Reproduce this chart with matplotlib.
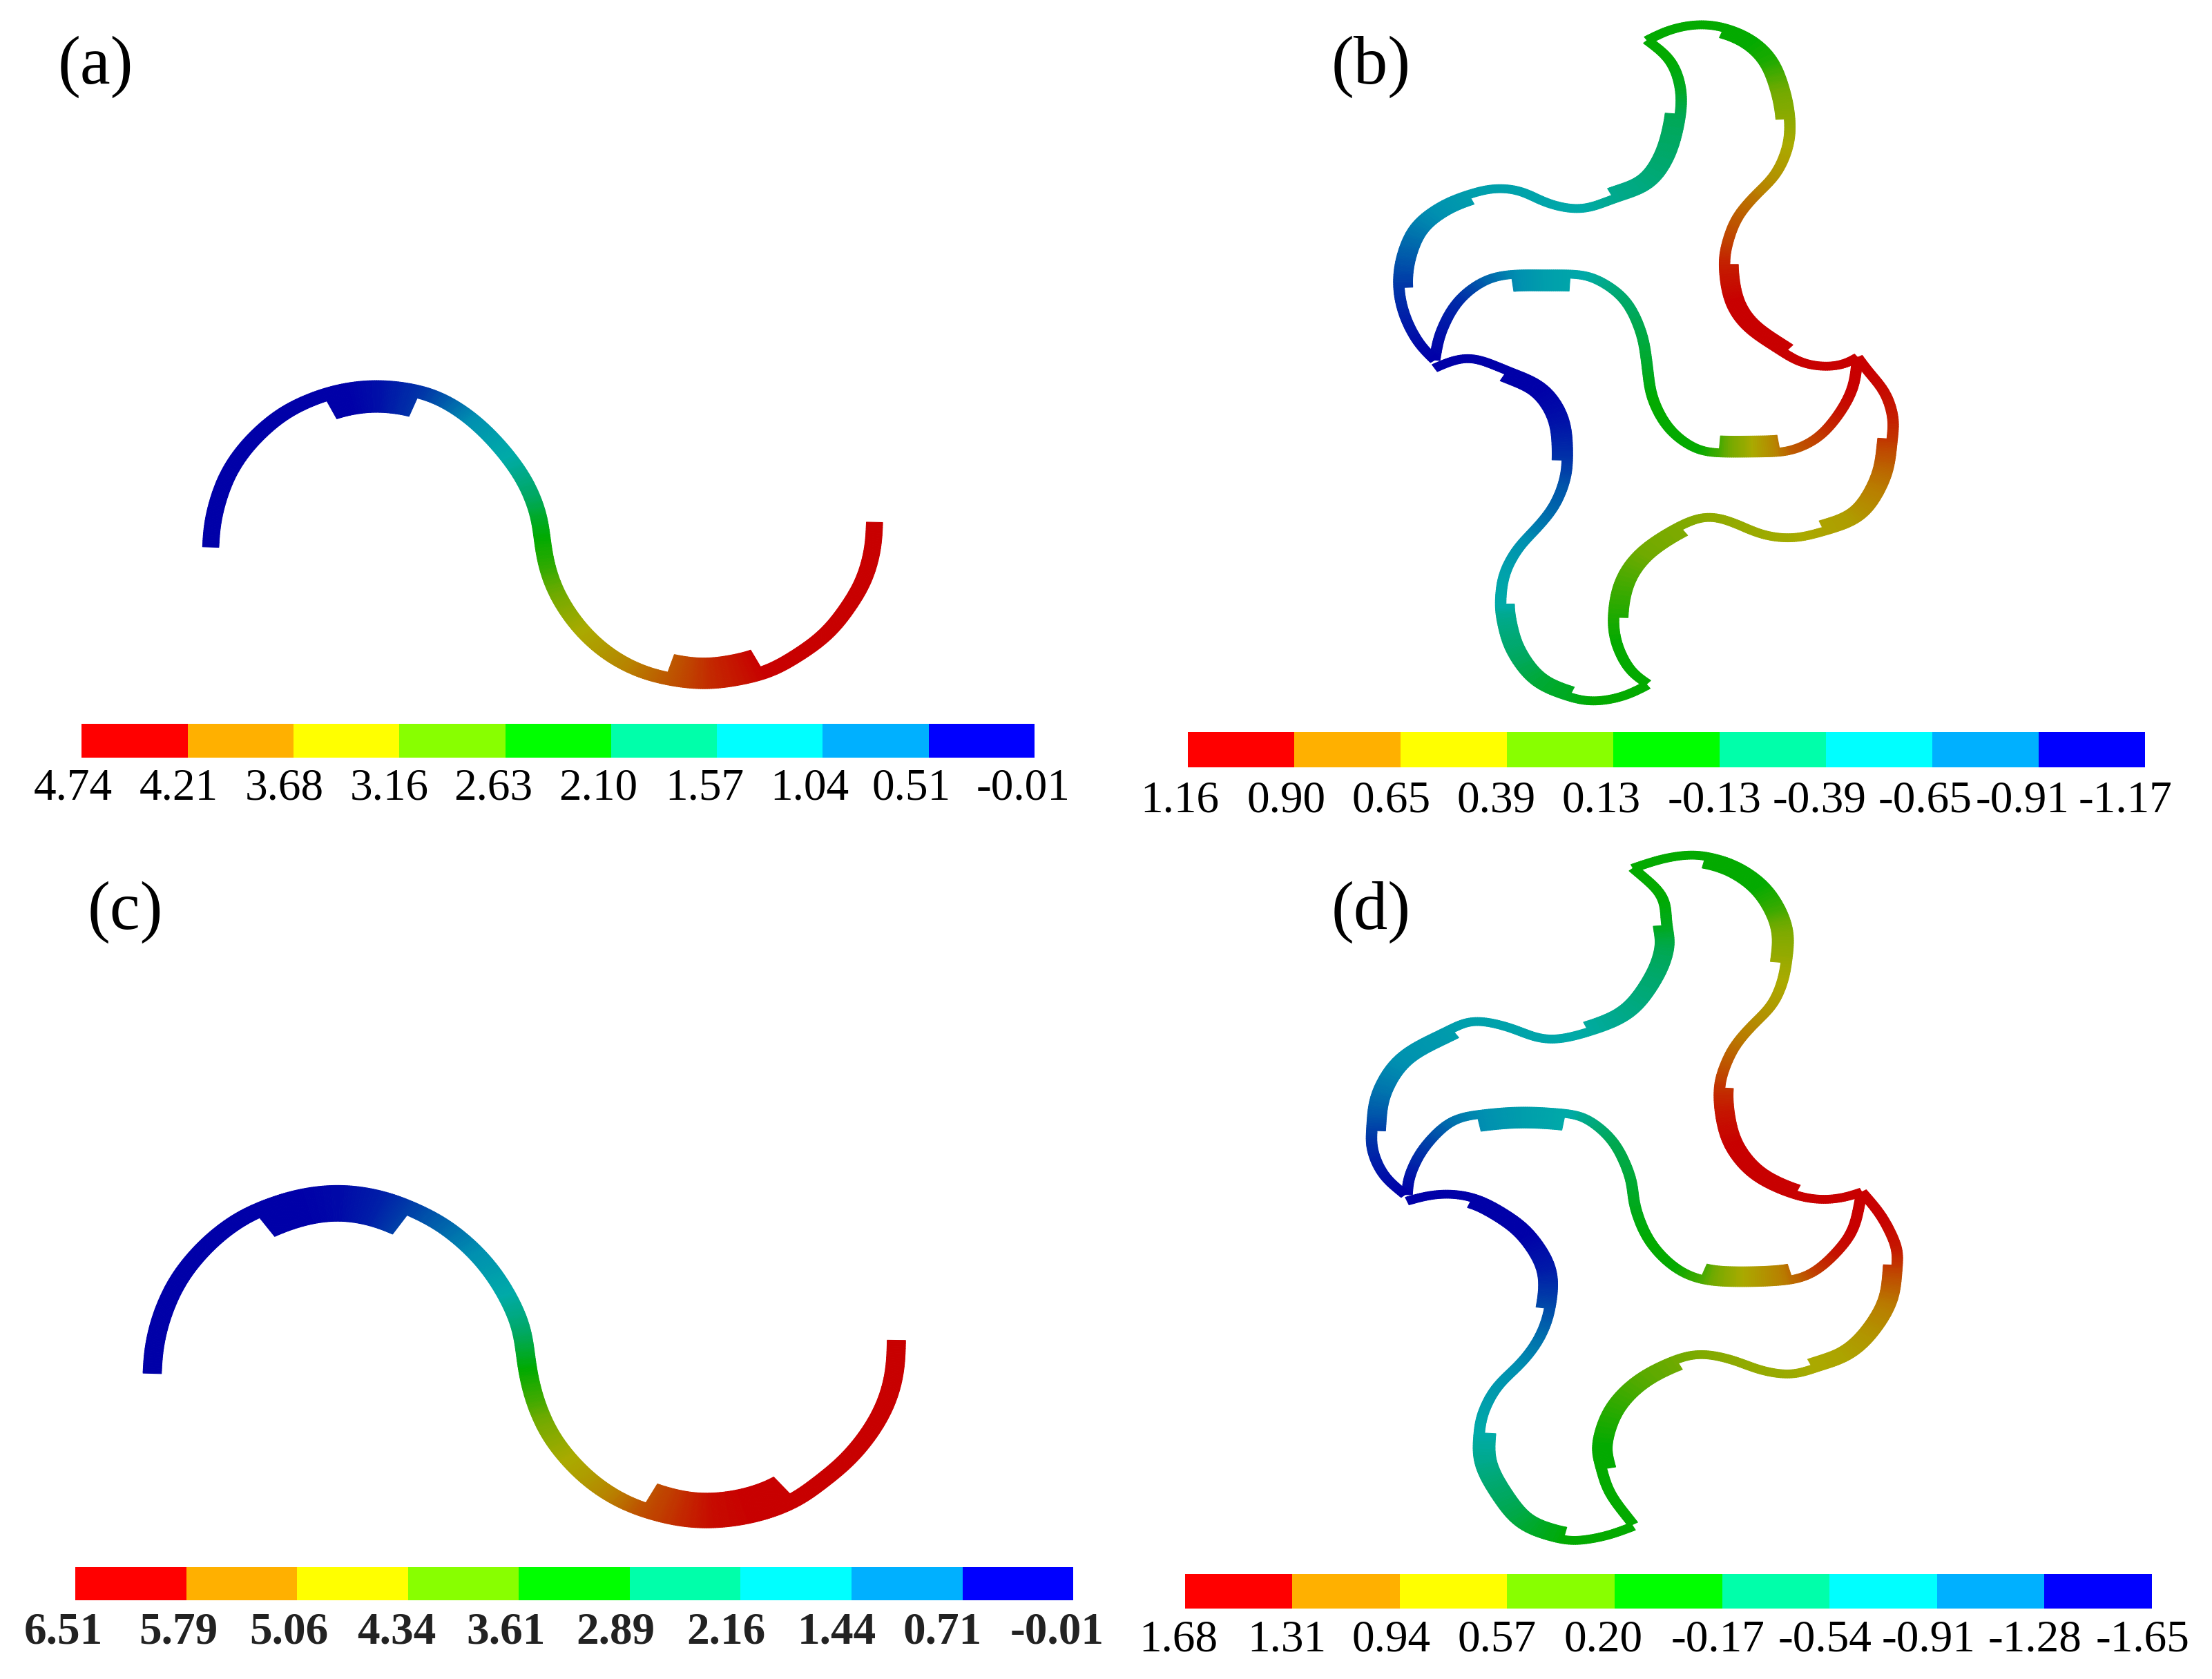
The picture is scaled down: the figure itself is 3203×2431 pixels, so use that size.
import numpy as np
import matplotlib
matplotlib.use("Agg")
import matplotlib.pyplot as plt
from matplotlib.collections import PolyCollection
from matplotlib.colors import LinearSegmentedColormap

# Colour bar
BAR_COLORS = ["#FF0000", "#FFB000", "#FFFF00", "#88FF00", "#00FF00", "#00FFAA", "#00FFFF", "#00B0FF", "#0000FF"]
A_TICKS = ["4.74", "4.21", "3.68", "3.16", "2.63", "2.10", "1.57", "1.04", "0.51", "-0.01"]
B_TICKS = ["1.16", "0.90", "0.65", "0.39", "0.13", "-0.13", "-0.39", "-0.65", "-0.91", "-1.17"]
C_TICKS = ["6.51", "5.79", "5.06", "4.34", "3.61", "2.89", "2.16", "1.44", "0.71", "-0.01"]
D_TICKS = ["1.68", "1.31", "0.94", "0.57", "0.20", "-0.17", "-0.54", "-0.91", "-1.28", "-1.65"]
A_TICK_X = [104, 254, 404, 552, 700, 849, 1000, 1149, 1293, 1452]
B_TICK_X = [106, 257, 406, 554, 703, 863, 1012, 1162, 1300, 1445]
C_TICK_X = [90, 253, 410, 563, 718, 873, 1030, 1188, 1337, 1500]
D_TICK_X = [104, 258, 406, 555, 706, 868, 1020, 1167, 1317, 1470]

# Panel a: centreline x, y, normalised value, extra thickness per segment
A_X = [299, 300, 307, 322, 345, 375, 410, 458, 490, 537, 596, 630, 670, 710, 745, 765, 769, 775, 790, 820, 860, 905, 942, 1005, 1083, 1104, 1130, 1160, 1184, 1205, 1222, 1233, 1240, 1241]
A_Y = [1018, 985, 940, 885, 838, 797, 762, 735, 724, 718, 728, 745, 780, 832, 895, 960, 1000, 1050, 1105, 1165, 1215, 1248, 1262, 1272, 1254, 1242, 1221, 1195, 1165, 1127, 1092, 1054, 1011, 972]
A_V = [0, 0, 0, 0, 0, 0, 0, 0, 0, .03, .1, .16, .25, .33, .4, .47, .5, .53, .58, .65, .72, .8, .85, .93, 1, 1, 1, 1, 1, 1, 1, 1, 1, 1]
A_E = [0, 0, 0, 0, 0, 0, 0, -36, -36, -36, 0, 0, 0, 0, 0, 0, 0, 0, 0, 0, 0, 0, 34, 34, 0, 0, 0, 0, 0, 0, 0, 0, 0, 0]

# Panel c
C_X = [216, 218, 230, 255, 295, 335, 360, 420, 482, 540, 583, 630, 680, 715, 740, 748, 760, 785, 830, 875, 910, 960, 1008, 1070, 1128, 1163, 1189, 1212, 1233, 1251, 1264, 1271, 1272]
C_Y = [995, 950, 885, 815, 752, 710, 692, 664, 654, 665, 686, 718, 775, 838, 910, 985, 1050, 1120, 1188, 1230, 1250, 1268, 1273, 1262, 1234, 1200, 1174, 1144, 1109, 1070, 1027, 980, 933]
C_V = [0, 0, 0, 0, 0, 0, 0, 0, .02, .06, .12, .18, .26, .34, .42, .5, .55, .62, .7, .8, .87, .93, .98, 1, 1, 1, 1, 1, 1, 1, 1, 1, 1]
C_E = [0, 0, 0, 0, 0, 0, -41, -41, -41, -41, 0, 0, 0, 0, 0, 0, 0, 0, 0, 0, 39, 39, 39, 39, 0, 0, 0, 0, 0, 0, 0, 0, 0]

# Panel b: five S-shaped strips
B1_X = [768, 800, 840, 875, 915, 945, 962, 970, 968, 950, 920, 895, 882, 877, 885, 910, 960, 985, 1020, 1050, 1066]
B1_Y = [75, 55, 45, 50, 72, 110, 165, 220, 270, 325, 365, 405, 450, 490, 560, 610, 655, 675, 683, 678, 665]
B1_V = [.5, .5, .5, .5, .5, .52, .58, .62, .66, .72, .8, .85, .9, .95, 1, 1, 1, 1, 1, 1, 1]
B1_E = [0, 0, 0, -12, -12, -12, -12, 0, 0, 0, 0, 0, 0, 12, 12, 12, 0, 0, 0, 0, 0]

B2_X = [1066, 1060, 1040, 1010, 975, 958, 915, 872, 840, 800, 775, 768, 760, 735, 690, 662, 620, 578, 540, 500, 475, 467]
B2_Y = [665, 720, 770, 815, 838, 842, 843, 843, 838, 800, 740, 680, 620, 555, 515, 510, 510, 510, 520, 560, 620, 670]
B2_V = [1, 1, .97, .9, .85, .8, .65, .55, .5, .5, .5, .47, .45, .42, .36, .33, .3, .24, .18, .08, .03, 0]
B2_E = [0, 0, 0, 0, 0, -24, -24, 0, 0, 0, 0, 0, 0, 0, 0, 24, 24, 0, 0, 0, 0, 0]

B3_X = [1066, 1080, 1105, 1117, 1115, 1108, 1085, 1060, 1020, 975, 930, 895, 855, 815, 760, 730, 720, 725, 745, 768]
B3_Y = [665, 690, 730, 780, 815, 880, 940, 970, 988, 1002, 995, 975, 960, 978, 1025, 1080, 1148, 1200, 1250, 1272]
B3_V = [1, 1, .98, .95, .92, .82, .75, .7, .68, .65, .64, .63, .62, .6, .58, .55, .52, .5, .5, .5]
B3_E = [0, 0, 0, 0, -13, -13, -13, -13, 0, 0, 0, 0, 0, 13, 13, 13, 0, 0, 0, 0]

B4_X = [768, 735, 690, 660, 610, 575, 562, 560, 565, 585, 610, 635, 650, 655, 650, 620, 570, 520, 490, 467]
B4_Y = [1275, 1296, 1306, 1298, 1270, 1210, 1150, 1125, 1070, 1020, 985, 945, 900, 858, 780, 720, 690, 665, 672, 685]
B4_V = [.5, .5, .5, .48, .46, .42, .38, .35, .32, .27, .22, .18, .15, .1, .03, 0, 0, 0, 0, 0]
B4_E = [0, 0, 0, -12, -12, -12, -12, 0, 0, 0, 0, 0, 0, 14, 14, 14, 0, 0, 0, 0]

B5_X = [467, 445, 425, 416, 420, 440, 480, 515, 550, 590, 625, 675, 720, 770, 800, 815, 815, 800, 768]
B5_Y = [670, 640, 590, 537, 480, 420, 380, 362, 350, 355, 378, 390, 370, 345, 290, 215, 160, 110, 75]
B5_V = [0, .02, .06, .1, .16, .22, .27, .3, .31, .32, .33, .35, .38, .4, .42, .44, .48, .5, .5]
B5_E = [0, 0, 0, -12, -12, -12, -12, 0, 0, 0, 0, 0, 14, 14, 14, 0, 0, 0, 0]

# Panel d
D1_X = [748, 790, 830, 848, 890, 930, 955, 968, 965, 960, 945, 915, 890, 875, 870, 872, 885, 920, 975, 1015, 1050, 1072]
D1_Y = [48, 30, 22, 24, 40, 75, 120, 170, 225, 260, 305, 345, 385, 430, 458, 510, 570, 625, 660, 670, 665, 655]
D1_V = [.5, .5, .5, .5, .5, .5, .54, .6, .64, .66, .7, .76, .82, .88, .92, .97, 1, 1, 1, 1, 1, 1]
D1_E = [0, 0, 0, -15, -15, -15, -15, -15, 0, 0, 0, 0, 0, 0, 12, 12, 12, 12, 0, 0, 0, 0]

D2_X = [1072, 1060, 1035, 1005, 975, 905, 845, 805, 770, 750, 745, 720, 680, 655, 590, 527, 490, 450, 430, 428]
D2_Y = [655, 725, 770, 805, 820, 825, 820, 795, 745, 680, 630, 560, 515, 508, 503, 510, 522, 575, 630, 660]
D2_V = [1, 1, .97, .9, .82, .66, .55, .5, .5, .48, .46, .44, .38, .35, .3, .24, .2, .1, .03, 0]
D2_E = [0, 0, 0, 0, -22, -22, 0, 0, 0, 0, 0, 0, 0, 24, 24, 0, 0, 0, 0, 0]

D3_X = [1072, 1100, 1122, 1122, 1115, 1085, 1050, 1005, 975, 930, 890, 845, 810, 755, 715, 697, 703, 715, 748]
D3_Y = [655, 700, 760, 790, 860, 925, 965, 985, 998, 990, 970, 958, 968, 1005, 1060, 1130, 1172, 1220, 1278]
D3_V = [1, 1, .96, .92, .8, .72, .68, .66, .64, .63, .62, .6, .58, .56, .53, .5, .5, .5, .5]
D3_E = [0, 0, 0, -12, -12, -12, -12, 0, 0, 0, 0, 0, 13, 13, 13, 13, 0, 0, 0]

D4_X = [748, 710, 665, 650, 590, 550, 530, 530, 535, 555, 590, 615, 630, 632, 600, 560, 522, 485, 455, 428]
D4_Y = [1282, 1300, 1310, 1308, 1280, 1215, 1160, 1108, 1070, 1020, 975, 930, 875, 800, 730, 690, 665, 658, 662, 672]
D4_V = [.5, .5, .5, .5, .46, .42, .38, .35, .32, .28, .24, .2, .14, .05, 0, 0, 0, 0, 0, 0]
D4_E = [0, 0, 0, -16, -16, -16, -16, 0, 0, 0, 0, 0, 12, 12, 12, 12, 0, 0, 0, 0]

D5_X = [425, 395, 378, 378, 385, 420, 490, 520, 570, 625, 685, 745, 785, 800, 795, 790, 748]
D5_Y = [660, 625, 575, 540, 470, 400, 350, 333, 345, 370, 355, 320, 250, 190, 155, 100, 48]
D5_V = [0, .03, .08, .12, .2, .26, .3, .31, .32, .33, .36, .39, .42, .45, .48, .5, .5]
D5_E = [0, 0, 0, -12, -12, -12, 0, 0, 0, 0, 12, 12, 12, 12, 0, 0, 0]

W, H = 3203, 2431
STRESS = LinearSegmentedColormap.from_list("stress", [
    (0.00, "#0000A8"), (0.12, "#0040A8"), (0.25, "#0090B0"), (0.35, "#00AAA8"),
    (0.43, "#00A860"), (0.50, "#00AA00"), (0.58, "#70AA00"), (0.66, "#AAAA00"),
    (0.78, "#B88000"), (0.90, "#C04000"), (1.00, "#C80000")])

plt.rcParams["font.family"] = ["Liberation Serif", "DejaVu Serif"]
fig = plt.figure(figsize=(W / 100, H / 100), dpi=100)
ax = fig.add_axes([0, 0, 1, 1])
ax.set_xlim(0, W)
ax.set_ylim(H, 0)
ax.axis("off")

SUB = 12
STEP = 3.0


def gauss(arr, sigma):
    """Gaussian running mean with point reflection so the ends stay in place."""
    r = int(3 * sigma)
    ker = np.exp(-0.5 * (np.arange(-r, r + 1) / sigma) ** 2)
    ker /= ker.sum()
    m = min(r, len(arr) - 1)
    pad0 = 2 * arr[0] - arr[m:0:-1]
    pad1 = 2 * arr[-1] - arr[-2:-m - 2:-1]
    full = np.concatenate([np.full(r - m, pad0[0]), pad0, arr, pad1, np.full(r - m, pad1[-1])])
    return np.convolve(full, ker, mode="valid")


def smooth(p, sigma):
    """Catmull-Rom through the read points, even arc-length steps, then a light Gaussian."""
    q = np.vstack([2 * p[0] - p[1], p, 2 * p[-1] - p[-2]])
    out, u = [], []
    t = np.linspace(0, 1, SUB, endpoint=False)[:, None]
    for i in range(1, len(q) - 2):
        a, b, c, d = q[i - 1], q[i], q[i + 1], q[i + 2]
        out.append(0.5 * (2 * b + (c - a) * t + (2 * a - 5 * b + 4 * c - d) * t ** 2 + (3 * b - a - 3 * c + d) * t ** 3))
        u.append(i - 1 + t[:, 0])
    out.append(p[-1:])
    u.append(np.array([len(p) - 1.0]))
    c = np.vstack(out)
    u = np.concatenate(u)
    s = np.concatenate([[0], np.cumsum(np.hypot(*np.diff(c, axis=0).T))])
    si = np.linspace(0, s[-1], int(s[-1] / STEP) + 2)
    cx = gauss(np.interp(si, s, c[:, 0]), sigma / STEP)
    cy = gauss(np.interp(si, s, c[:, 1]), sigma / STEP)
    return np.column_stack([cx, cy]), np.interp(si, s, u)


def strip(x, y, v, e, ox, oy, sx, sy, base, sigma):
    p = np.column_stack([np.array(x, float), np.array(y, float)])
    c, u = smooth(p, sigma)
    d = np.gradient(c, axis=0)
    n = np.column_stack([d[:, 1], -d[:, 0]]) / np.maximum(np.hypot(d[:, 0], d[:, 1]), 1e-6)[:, None]
    vals = np.interp(u, np.arange(len(p)), v)
    seg = np.minimum(u.astype(int), len(p) - 2)
    scale = np.array([sx, sy])
    off = np.array([ox, oy])
    polys, cols = [], []
    for j in range(len(c) - 1):
        ex = e[seg[j]]
        lo, hi = base / 2, base / 2
        if ex > 0:
            lo += ex
        elif ex < 0:
            hi -= ex
        quad = np.array([c[j] + n[j] * lo, c[j + 1] + n[j + 1] * lo, c[j + 1] - n[j + 1] * hi, c[j] - n[j] * hi])
        polys.append(off + quad * scale)
        cols.append(STRESS(vals[j]))
    ax.add_collection(PolyCollection(polys, facecolors=cols, edgecolors=cols, linewidths=0.8))


def colorbar(x0, x1, y0, y1, ox, oy, sx, sy, labels, label_x, label_y, weight="normal"):
    edges = np.linspace(ox + x0 * sx, ox + x1 * sx, len(BAR_COLORS) + 1)
    ax.bar(edges[:-1], (y1 - y0) * sy, width=np.diff(edges), bottom=oy + y0 * sy, align="edge", color=BAR_COLORS, linewidth=0)
    for lab, lx in zip(labels, label_x):
        ax.text(ox + lx * sx, oy + label_y * sy, lab, ha="center", va="center", fontsize=47, fontweight=weight,
                color="#222222" if weight == "bold" else "black")


SX_L = 1600 / 1568
SX_R = 1603 / 1568
SY_T = 1220 / 1568
SY_B = 1211 / 1568
OY2 = 1220

strip(A_X, A_Y, A_V, A_E, 0, 0, SX_L, SY_T, 23, 24)
strip(C_X, C_Y, C_V, C_E, 0, OY2, SX_L, SY_B, 26, 24)
for X, Y, V, E in [(B1_X, B1_Y, B1_V, B1_E), (B2_X, B2_Y, B2_V, B2_E), (B3_X, B3_Y, B3_V, B3_E),
                   (B4_X, B4_Y, B4_V, B4_E), (B5_X, B5_Y, B5_V, B5_E)]:
    strip(X, Y, V, E, 1600, 0, SX_R, SY_T, 15, 16)
for X, Y, V, E in [(D1_X, D1_Y, D1_V, D1_E), (D2_X, D2_Y, D2_V, D2_E), (D3_X, D3_Y, D3_V, D3_E),
                   (D4_X, D4_Y, D4_V, D4_E), (D5_X, D5_Y, D5_V, D5_E)]:
    strip(X, Y, V, E, 1600, OY2, SX_R, SY_B, 15, 16)

colorbar(116, 1468, 1347, 1410, 0, 0, SX_L, SY_T, A_TICKS, A_TICK_X, 1467)
colorbar(117, 1473, 1362, 1428, 1600, 0, SX_R, SY_T, B_TICKS, B_TICK_X, 1490)
colorbar(107, 1523, 1358, 1420, 0, OY2, SX_L, SY_B, C_TICKS, C_TICK_X, 1480, weight="bold")
colorbar(113, 1483, 1371, 1436, 1600, OY2, SX_R, SY_B, D_TICKS, D_TICK_X, 1495)

for lab, lx, ly, ox, oy, sx, sy in [("(a)", 136, 125, 0, 0, SX_L, SY_T), ("(b)", 377, 125, 1600, 0, SX_R, SY_T),
                                    ("(c)", 178, 130, 0, OY2, SX_L, SY_B), ("(d)", 377, 130, 1600, OY2, SX_R, SY_B)]:
    ax.text(ox + lx * sx, oy + ly * sy, lab, ha="center", va="center", fontsize=71, color="black")

fig.savefig("out.png", dpi=100, facecolor="white")
